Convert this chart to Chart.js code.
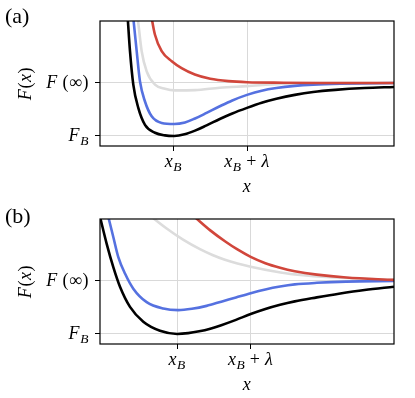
<!DOCTYPE html>
<html lang="en">
<head>
<meta charset="UTF-8">
<title>F(x) curves</title>
<style>
  body { margin: 0; background: #fff; }
  canvas { display: block; }
</style>
</head>
<body>
<canvas id="panelA" width="415" height="199"></canvas>
<canvas id="panelB" width="415" height="199"></canvas>

<script src="https://cdn.jsdelivr.net/npm/chart.js"></script>
<script>
// ticks: x_B = 1, lambda = 1, F(inf) = 0, F_B = -1
const xTickVals = [1, 2];
const xTickLabels = ['x_B', 'x_B + λ'];
const yTickVals = [-1, 0];
const yTickLabels = ['F_B', 'F (∞)'];

// panel (a)
const aBlackX = [0.35, 0.377, 0.408, 0.453, 0.521, 0.612, 0.748, 0.884, 1.01, 1.15, 1.293, 1.45, 1.63, 1.8, 2.0, 2.2, 2.4, 2.65, 2.9, 3.2, 3.6, 4.0];
const aBlackY = [1.77, 1.23, 0.60, -0.03, -0.47, -0.79, -0.94, -0.99, -1.0, -0.97, -0.90, -0.80, -0.68, -0.575, -0.47, -0.375, -0.30, -0.225, -0.17, -0.13, -0.095, -0.075];
const aBlueX = [0.42, 0.453, 0.499, 0.544, 0.612, 0.703, 0.839, 1.01, 1.156, 1.293, 1.45, 1.63, 1.8, 2.0, 2.2, 2.4, 2.65, 2.9, 3.27, 4.0];
const aBlueY = [1.68, 1.23, 0.60, 0.03, -0.35, -0.63, -0.755, -0.774, -0.745, -0.67, -0.565, -0.44, -0.33, -0.225, -0.145, -0.095, -0.055, -0.032, -0.015, 0.0];
const aGrayX = [0.49, 0.513, 0.567, 0.635, 0.748, 0.884, 1.02, 1.29, 1.63, 2.0, 2.45, 3.0, 4.0];
const aGrayY = [1.5, 1.23, 0.60, 0.22, -0.03, -0.11, -0.14, -0.135, -0.09, -0.06, -0.02, 0.0, 0.0];
const aRedX = [0.68, 0.703, 0.748, 0.839, 0.976, 1.11, 1.29, 1.50, 1.75, 2.0, 2.5, 3.0, 4.0];
const aRedY = [1.45, 1.23, 0.91, 0.60, 0.41, 0.28, 0.16, 0.08, 0.035, 0.015, 0.005, 0.0, 0.0];

// panel (b)
const bBlackX = [-0.1, -0.05, 0.041, 0.131, 0.222, 0.358, 0.539, 0.766, 1.0, 1.15, 1.3, 1.45, 1.6, 1.8, 2.0, 2.2, 2.4, 2.6, 2.9, 3.2, 3.55, 3.95];
const bBlackY = [1.49, 1.21, 0.70, 0.26, -0.11, -0.49, -0.77, -0.94, -1.0, -0.985, -0.95, -0.90, -0.835, -0.735, -0.625, -0.53, -0.45, -0.385, -0.31, -0.24, -0.17, -0.11];
const bBlueX = [0.02, 0.063, 0.131, 0.199, 0.29, 0.403, 0.585, 0.811, 1.015, 1.2, 1.4, 1.6, 1.8, 2.0, 2.2, 2.4, 2.6, 2.9, 3.3, 3.95];
const bBlueY = [1.45, 1.21, 0.83, 0.45, 0.14, -0.145, -0.40, -0.52, -0.55, -0.525, -0.47, -0.39, -0.31, -0.23, -0.16, -0.105, -0.065, -0.035, -0.012, 0.0];
const bGrayX = [0.55, 0.653, 0.857, 1.08, 1.31, 1.48, 1.65, 1.82, 2.0, 2.33, 2.60, 3.22, 3.95];
const bGrayY = [1.33, 1.21, 0.99, 0.78, 0.60, 0.49, 0.40, 0.33, 0.27, 0.18, 0.125, 0.06, 0.02];
const bRedX = [1.15, 1.27, 1.45, 1.65, 1.82, 2.0, 2.2, 2.4, 2.6, 2.9, 3.3, 3.95];
const bRedY = [1.32, 1.17, 0.955, 0.75, 0.595, 0.455, 0.335, 0.25, 0.185, 0.12, 0.065, 0.02];

const BLACK = '#000000';
const BLUE = '#5571e0';
const RED = '#d1463b';
const GRAY = '#dcdcdc';
const SERIF = '"Liberation Serif", "DejaVu Serif", serif';
const FS = 18;

function pts(xs, ys) {
  return xs.map((x, i) => ({ x: x, y: ys[i] }));
}

function line(xs, ys, color) {
  return {
    data: pts(xs, ys),
    borderColor: color,
    borderWidth: 2.6,
    pointRadius: 0,
    cubicInterpolationMode: 'monotone',
    fill: false,
    clip: 0
  };
}

// tiny mathtext: letters/greek italic, '_' makes next char a subscript
function drawMath(ctx, str, x, y, align, size) {
  const runs = [];
  for (let i = 0; i < str.length; i++) {
    let ch = str[i];
    let sub = false;
    if (ch === '_') { sub = true; ch = str[++i]; }
    runs.push({ ch: ch, sub: sub, it: /[A-Za-zλ]/.test(ch) });
  }
  let total = 0;
  runs.forEach(r => {
    const s = r.sub ? size * 0.75 : size;
    r.font = (r.it ? 'italic ' : '') + s + 'px ' + SERIF;
    ctx.font = r.font;
    r.w = ctx.measureText(r.ch).width + (r.ch === ' ' ? 0 : 0.6);
    total += r.w;
  });
  let cx = x;
  if (align === 'right') cx = x - total;
  else if (align === 'center') cx = x - total / 2;
  ctx.textAlign = 'left';
  ctx.textBaseline = 'alphabetic';
  ctx.fillStyle = '#000';
  runs.forEach(r => {
    ctx.font = r.font;
    ctx.fillText(r.ch, cx, r.sub ? y + size * 0.2 : y);
    cx += r.w;
  });
}

const decor = {
  id: 'decor',
  afterDraw(chart, args, opts) {
    const ctx = chart.ctx;
    const area = chart.chartArea;
    const xs = chart.scales.x;
    const ys = chart.scales.y;
    ctx.save();
    // box
    ctx.strokeStyle = '#000';
    ctx.lineWidth = 1.2;
    ctx.strokeRect(area.left, area.top, area.right - area.left, area.bottom - area.top);
    // tick labels
    xTickVals.forEach((v, i) => {
      drawMath(ctx, xTickLabels[i], xs.getPixelForValue(v), area.bottom + opts.xTickOff, 'center', FS);
    });
    yTickVals.forEach((v, i) => {
      drawMath(ctx, yTickLabels[i], area.left - 11, ys.getPixelForValue(v) + 5.5, 'right', FS);
    });
    // axis titles
    drawMath(ctx, 'x', (area.left + area.right) / 2, area.bottom + opts.xTitleOff, 'center', FS);
    ctx.save();
    ctx.translate(31, (area.top + area.bottom) / 2);
    ctx.rotate(-Math.PI / 2);
    drawMath(ctx, 'F(x)', 0, 0, 'center', FS);
    ctx.restore();
    // panel letter
    ctx.font = '22px ' + SERIF;
    ctx.textAlign = 'left';
    ctx.textBaseline = 'alphabetic';
    ctx.fillText(opts.letter, 5, opts.letterY);
    ctx.restore();
  }
};

function makePanel(id, datasets, xMin, xMax, padTop, xHeight, letter, letterY) {
  return new Chart(document.getElementById(id), {
    type: 'line',
    data: { datasets: datasets },
    plugins: [decor],
    options: {
      responsive: false,
      animation: false,
      events: [],
      layout: { padding: { top: padTop, right: 21, left: 0, bottom: 0 } },
      plugins: {
        legend: { display: false },
        tooltip: { enabled: false },
        decor: { letter: letter, letterY: letterY, xTickOff: 21, xTitleOff: 46 }
      },
      scales: {
        x: {
          type: 'linear',
          min: xMin,
          max: xMax,
          afterBuildTicks: s => { s.ticks = xTickVals.map(v => ({ value: v })); },
          afterFit: s => { s.height = xHeight; },
          ticks: { display: false },
          border: { display: false },
          grid: { color: '#d9d9d9', lineWidth: 1, tickColor: '#000', tickLength: 5, tickWidth: 1 }
        },
        y: {
          type: 'linear',
          min: -1.19,
          max: 1.17,
          afterBuildTicks: s => { s.ticks = yTickVals.map(v => ({ value: v })); },
          afterFit: s => { s.width = 100; },
          ticks: { display: false },
          border: { display: false },
          grid: { color: '#d9d9d9', lineWidth: 1, tickColor: '#000', tickLength: 5, tickWidth: 1 }
        }
      }
    }
  });
}

makePanel('panelA', [
  line(aBlackX, aBlackY, BLACK),
  line(aRedX, aRedY, RED),
  line(aBlueX, aBlueY, BLUE),
  line(aGrayX, aGrayY, GRAY)
], 0, 4, 21, 53, '(a)', 23);

makePanel('panelB', [
  line(bBlackX, bBlackY, BLACK),
  line(bRedX, bRedY, RED),
  line(bBlueX, bBlueY, BLUE),
  line(bGrayX, bGrayY, GRAY)
], -0.05, 3.95, 20, 54, '(b)', 24);
</script>
</body>
</html>
